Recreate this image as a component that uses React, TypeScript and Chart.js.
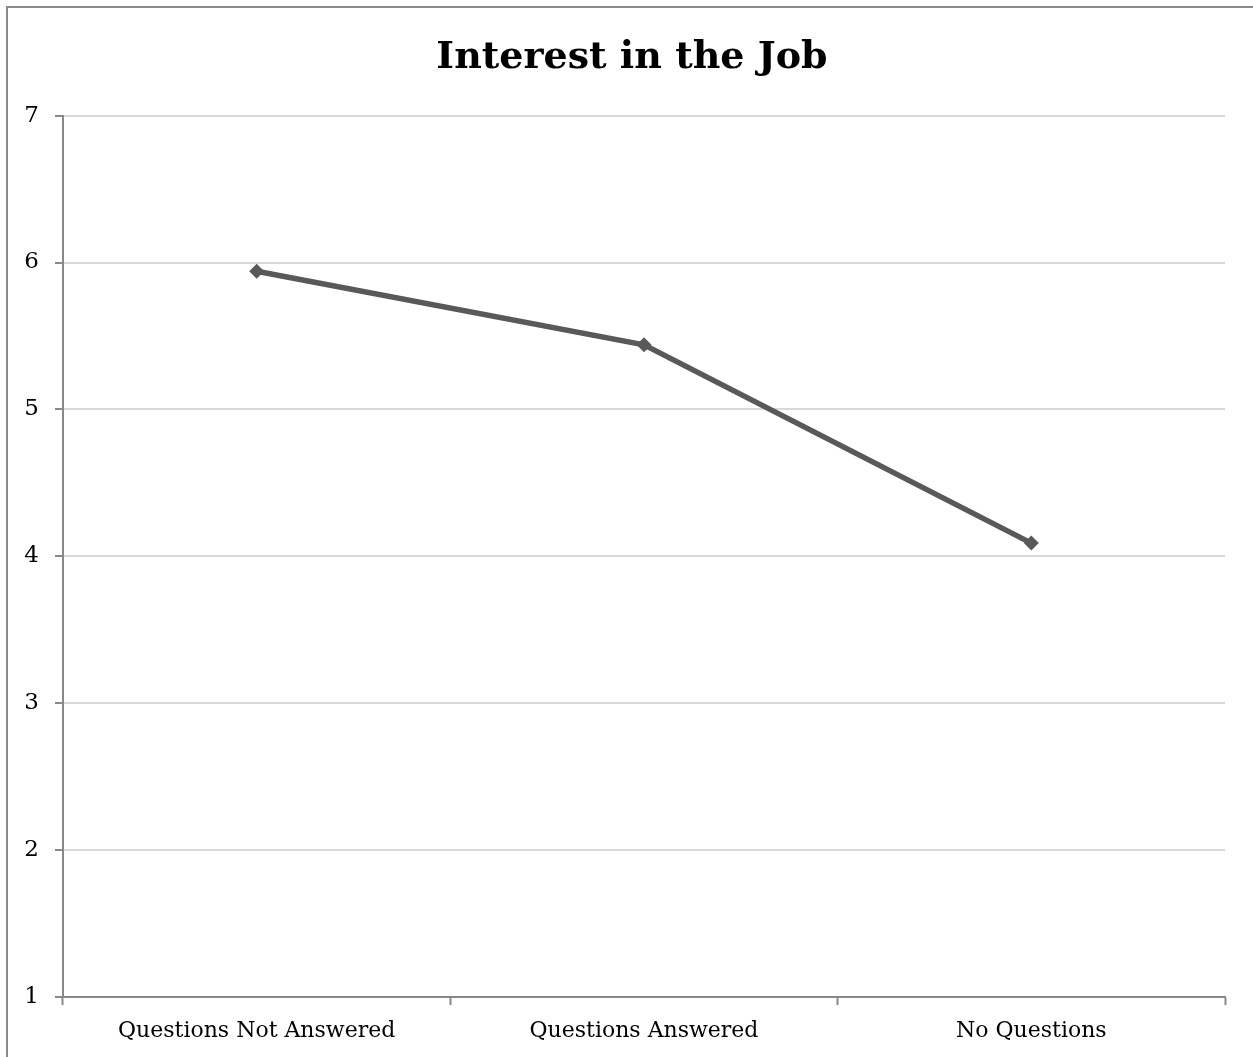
import React, { useEffect, useRef } from "react";
import { Chart, registerables } from "chart.js";

Chart.register(...registerables);

const categories = ["Questions Not Answered", "Questions Answered", "No Questions"];
const interestScores = [5.94, 5.44, 4.09];
const yTicks = [1, 2, 3, 4, 5, 6, 7];

const FONT = "'DejaVu Serif', 'Liberation Serif', serif";

export default function App() {
  const canvasRef = useRef<HTMLCanvasElement | null>(null);

  useEffect(() => {
    if (!canvasRef.current) return;
    const chart = new Chart(canvasRef.current, {
      type: "line",
      data: {
        labels: categories,
        datasets: [
          {
            label: "Interest in the Job",
            data: interestScores,
            borderColor: "#595959",
            backgroundColor: "#595959",
            borderWidth: 5.5,
            pointStyle: "rectRot",
            pointRadius: 7.5,
            pointBorderWidth: 0,
            tension: 0,
          },
        ],
      },
      options: {
        responsive: false,
        animation: false,
        layout: { padding: { top: 0, right: 0, bottom: 0, left: 11 } },
        plugins: {
          legend: { display: false },
          tooltip: { enabled: false },
          title: {
            display: true,
            text: "Interest in the Job",
            color: "#000",
            font: { family: FONT, size: 38, weight: "bold" },
            padding: { top: 35, bottom: 35 },
          },
        },
        scales: {
          x: {
            type: "category",
            offset: true,
            grid: {
              offset: true,
              drawOnChartArea: false,
              drawTicks: true,
              tickLength: 8,
              tickColor: "#888",
              tickWidth: 2,
            },
            border: { color: "#888", width: 2 },
            ticks: {
              color: "#000",
              font: { family: FONT, size: 22 },
              padding: 13,
              maxRotation: 0,
            },
            afterFit: (s: any) => {
              s.height = 60;
            },
          },
          y: {
            min: 1,
            max: 7,
            afterBuildTicks: (s: any) => {
              s.ticks = yTicks.map((v) => ({ value: v }));
            },
            grid: {
              color: "#d9d9d9",
              lineWidth: 2,
              drawTicks: true,
              tickLength: 8,
              tickColor: "#888",
              tickWidth: 2,
            },
            border: { color: "#888", width: 2 },
            ticks: {
              color: "#000",
              font: { family: FONT, size: 23 },
              padding: 16,
            },
            afterFit: (s: any) => {
              s.width = 52;
            },
          },
          // empty right-hand axis that reserves the margin beside the plot
          yRight: {
            position: "right",
            min: 1,
            max: 7,
            grid: { display: false },
            border: { display: false },
            ticks: { display: false },
            afterFit: (s: any) => {
              s.width = 28;
            },
          },
        },
      },
    });
    return () => chart.destroy();
  }, []);

  return (
    <div
      style={{
        position: "fixed",
        left: 0,
        top: 0,
        width: 1253,
        height: 1057,
        overflow: "hidden",
        background: "#fff",
      }}
    >
      <div
        style={{
          position: "absolute",
          left: 6,
          top: 6,
          width: 1300,
          height: 1100,
          border: "2px solid #8a8a8a",
          boxSizing: "border-box",
        }}
      />
      <canvas
        ref={canvasRef}
        width={1253}
        height={1057}
        style={{ position: "absolute", left: 0, top: 0, width: 1253, height: 1057 }}
      />
    </div>
  );
}
